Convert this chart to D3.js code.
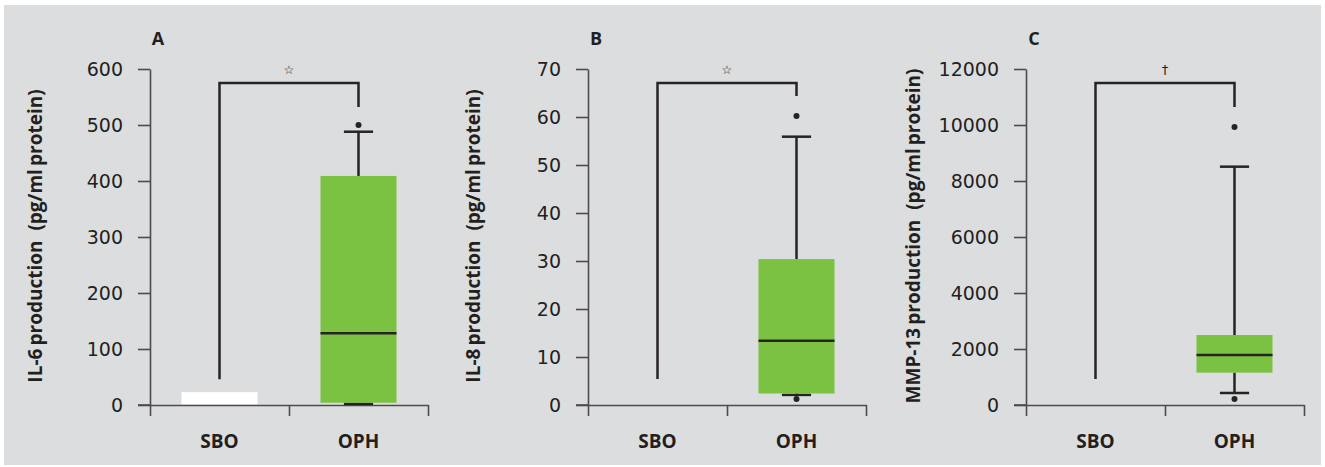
<!DOCTYPE html>
<html><head><meta charset="utf-8">
<script src="https://cdn.jsdelivr.net/npm/d3@7"></script>
<style>body{margin:0;background:#fff}svg{display:block}text{font-family:"Open Sans","Noto Sans",sans-serif;fill:#231f20}</style>
</head><body>
<script>
const categories = ["SBO", "OPH"];
const panelLetters = ["A", "B", "C"];
const yTitles = ["IL-6\u2009production  (pg/ml\u2009protein)", "IL-8\u2009production  (pg/ml\u2009protein)", "MMP-13\u2009production  (pg/ml\u2009protein)"];
const yTicks = [
  [0, 100, 200, 300, 400, 500, 600],
  [0, 10, 20, 30, 40, 50, 60, 70],
  [0, 2000, 4000, 6000, 8000, 10000, 12000]
];
// SBO box (low, high) — only visible in panel A
const sboBox = [[0, 23], null, null];
// OPH box stats: [whiskerLow, q1, median, q3, whiskerHigh]
const ophStats = [
  [2, 4, 128, 409, 488],
  [2.1, 2.4, 13.4, 30.4, 55.9],
  [429, 1155, 1786, 2500, 8512]
];
const ophOutliers = [[500], [60.2, 1.25], [9929, 214]];
// significance bracket: [SBO end, top, OPH end]
const brackets = [[46, 575, 532], [5.4, 67.1, 64.4], [929, 11500, 10643]];
const sigMarks = ["☆", "☆", "†"];

const W = 1325, H = 467;
const svg = d3.select("body").append("svg").attr("width", W).attr("height", H);
svg.append("rect").attr("x", 4).attr("y", 5).attr("width", 1317).attr("height", 460).attr("fill", "#dcdddf");

const axisXs = [150, 588, 1026];
const titleXs = [35, 473, 913];
const plotW = 278, yTop = 69, yBot = 405;
const green = "#7cc242", dark = "#262324", axisCol = "#4d4b4c";

panelLetters.forEach((L, i) => {
  const x0 = axisXs[i];
  const g = svg.append("g");
  const y = d3.scaleLinear().domain([0, yTicks[i][yTicks[i].length - 1]]).range([yBot, yTop]);
  const xb = d3.scaleBand().domain(categories).range([x0, x0 + plotW]).padding(0);
  const xl = d3.scaleLinear().domain([0, 2]).range([x0, x0 + plotW]);
  const bw = xb.bandwidth();
  const cx = c => xb(c) + bw / 2;
  const boxW = bw * 0.547, capW = bw * 0.21;

  // y axis
  const ya = g.append("g").attr("transform", `translate(${x0},0)`)
    .call(d3.axisLeft(y).tickValues(yTicks[i]).tickSize(12).tickSizeOuter(0).tickPadding(15).tickFormat(d3.format("d")));
  ya.select(".domain").attr("stroke", axisCol).attr("stroke-width", 1.6);
  ya.selectAll(".tick line").attr("stroke", axisCol).attr("stroke-width", 1.6);
  ya.selectAll(".tick text").style("font-size", "19px").style("font-family", "'DejaVu Sans', sans-serif").attr("fill", "#231f20");

  // x axis
  const xa = g.append("g").attr("transform", `translate(0,${yBot})`)
    .call(d3.axisBottom(xl).tickValues([0, 1, 2]).tickSize(11).tickSizeOuter(0).tickFormat(""));
  xa.select(".domain").attr("stroke", axisCol).attr("stroke-width", 1.6);
  xa.selectAll(".tick line").attr("stroke", axisCol).attr("stroke-width", 1.6);
  g.append("line").attr("x1", xl(0) - 12).attr("x2", xl(0)).attr("y1", yBot).attr("y2", yBot)
    .attr("stroke", axisCol).attr("stroke-width", 1.6);

  // category labels
  g.selectAll(".cat").data(categories).enter().append("text")
    .attr("x", d => cx(d)).attr("y", 448).attr("text-anchor", "middle")
    .style("font-size", "19px").style("font-weight", "700").text(d => d);

  // y title
  g.append("text").attr("transform", `translate(${titleXs[i] + 7},236) rotate(-90)`)
    .attr("text-anchor", "middle").style("font-size", "19px").style("font-weight", "700")
    .style("white-space", "pre").text(yTitles[i]);

  // panel letter
  g.append("text").attr("x", x0 + 8).attr("y", 45).attr("text-anchor", "middle")
    .style("font-size", "18px").style("font-weight", "700").text(L);

  // SBO box
  if (sboBox[i]) {
    g.append("rect").attr("x", cx("SBO") - boxW / 2).attr("width", boxW)
      .attr("y", y(sboBox[i][1])).attr("height", y(sboBox[i][0]) - y(sboBox[i][1]) - 0.8)
      .attr("fill", "#ffffff");
  }

  // OPH box
  const [wl, q1, md, q3, wh] = ophStats[i];
  const c = cx("OPH");
  g.append("line").attr("x1", c).attr("x2", c).attr("y1", y(q3)).attr("y2", y(wh)).attr("stroke", dark).attr("stroke-width", 2.5);
  g.append("line").attr("x1", c).attr("x2", c).attr("y1", y(q1)).attr("y2", y(wl)).attr("stroke", dark).attr("stroke-width", 2.5);
  [wl, wh].forEach(v => g.append("line").attr("x1", c - capW / 2).attr("x2", c + capW / 2)
    .attr("y1", y(v)).attr("y2", y(v)).attr("stroke", dark).attr("stroke-width", 2.5));
  g.append("rect").attr("x", c - boxW / 2).attr("width", boxW).attr("y", y(q3)).attr("height", y(q1) - y(q3)).attr("fill", green);
  g.append("line").attr("x1", c - boxW / 2).attr("x2", c + boxW / 2).attr("y1", y(md)).attr("y2", y(md)).attr("stroke", dark).attr("stroke-width", 2.5);
  g.selectAll(".out").data(ophOutliers[i]).enter().append("circle")
    .attr("cx", c).attr("cy", d => y(d)).attr("r", 3).attr("fill", dark);

  // bracket
  const [bl, bt, br] = brackets[i];
  g.append("path").attr("d", d3.line()([[cx("SBO"), y(bl)], [cx("SBO"), y(bt)], [c, y(bt)], [c, y(br)]]))
    .attr("fill", "none").attr("stroke", dark).attr("stroke-width", 2.5);
  g.append("text").attr("x", xl(1)).attr("y", 74).attr("text-anchor", "middle")
    .style("font-size", sigMarks[i] === "†" ? "13px" : "12px").style("font-family", "'DejaVu Sans', sans-serif").text(sigMarks[i]);
});
</script>
</body></html>
